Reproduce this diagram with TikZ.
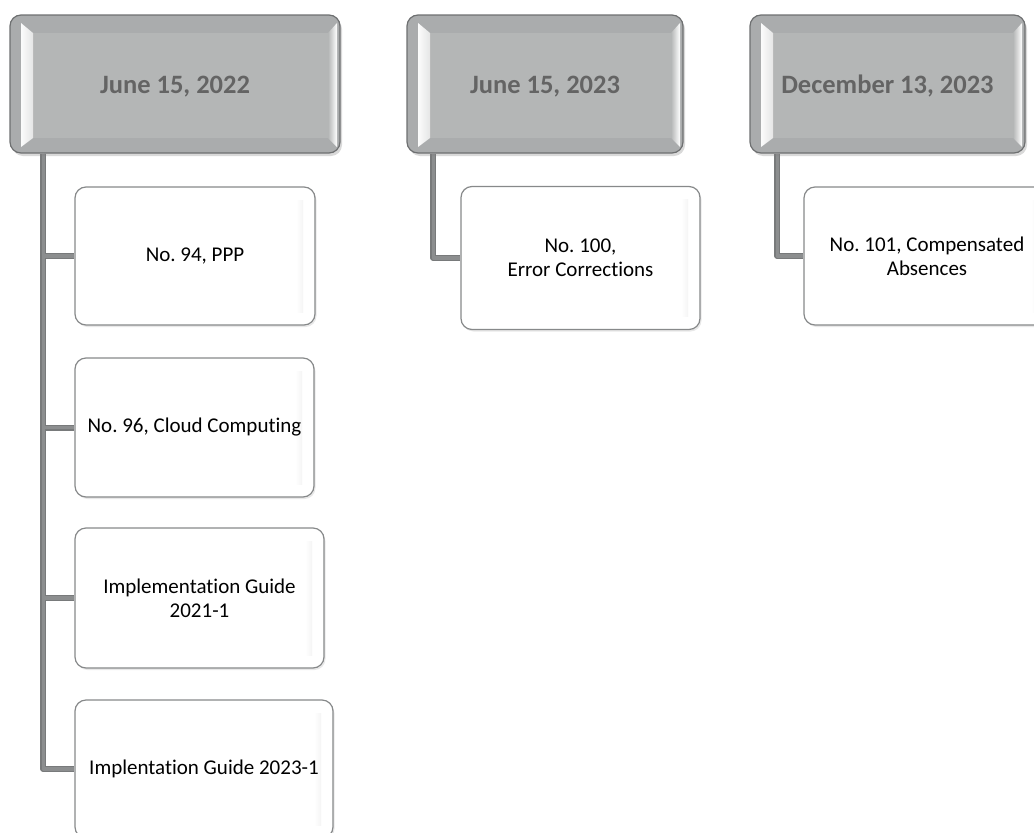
\documentclass[tikz,border=0pt]{standalone}
\usepackage{fontspec}
\setmainfont{Carlito}[Ligatures=NoCommon]
\frenchspacing
\usetikzlibrary{calc,shadows,backgrounds}
\definecolor{hdrout}{RGB}{170,172,173}
\definecolor{hdrface}{RGB}{180,182,182}
\definecolor{hdrtext}{RGB}{100,100,100}
\definecolor{hdrline}{RGB}{110,112,113}
\definecolor{boxline}{RGB}{135,137,138}
\definecolor{connout}{RGB}{120,122,123}
\definecolor{connin}{RGB}{140,142,143}
\tikzset{
  hdr/.style={rounded corners=11pt, draw=hdrline, line width=1.2pt, fill=hdrout,
    minimum height=138pt, inner sep=0pt, text=hdrtext,
    font=\fontsize{26.5}{30}\selectfont\bfseries,
    drop shadow={opacity=0.3, shadow xshift=2pt, shadow yshift=-3pt},
    path picture={
      \coordinate (nw) at (path picture bounding box.north west);
      \coordinate (se) at (path picture bounding box.south east);
      \fill[hdrface, sharp corners] ($(nw)+(23,18)$) rectangle ($(se)+(-12,-15)$);
      \shade[sharp corners, left color=white!95!hdrface, right color=hdrface!35!white]
        ($(nw)+(11,8)$) -- ($(nw)+(23,18)$) -- ($(nw|-se)+(23,-15)$) -- ($(nw|-se)+(11,-6)$) -- cycle;
      \shade[sharp corners, left color=hdrface, right color=white]
        ($(se|-nw)+(-12,18)$) -- ($(se|-nw)+(-3,8)$) -- ($(se)+(-3,-6)$) -- ($(se)+(-12,-15)$) -- cycle;
    }},
  leaf/.style={rounded corners=11pt, draw=boxline, line width=1.2pt, fill=white,
    inner sep=2pt, align=center, text=black,
    font=\fontsize{21}{24}\selectfont,
    drop shadow={opacity=0.18, shadow xshift=1.5pt, shadow yshift=-2pt},
    path picture={
      \coordinate (nw) at (path picture bounding box.north west);
      \coordinate (se) at (path picture bounding box.south east);
      \shade[sharp corners, left color=white, right color=black!4]
        ($(se|-nw)+(-19,13)$) rectangle ($(se)+(-12,-13)$);
    }},
  connA/.style={draw=connout, line width=6pt, line join=round},
  connB/.style={draw=connin, line width=3.8pt, line join=round},
}
\newcommand\hdrlabel[1]{\raisebox{-9pt}[0pt][0pt]{#1}}
\begin{document}
\begin{tikzpicture}[x=1pt, y=-1pt]
\useasboundingbox (0,0) rectangle (1034,833);

\node[hdr, minimum width=330pt] (h1) at (175,84) {\hdrlabel{June 15, 2022}};
\node[hdr, minimum width=276pt] (h2) at (545,84) {\hdrlabel{June 15, 2023}};
\node[hdr, minimum width=275pt] (h3) at (887.5,84) {\hdrlabel{December 13, 2023}};

\node[leaf, minimum width=240pt, minimum height=138pt] (c1) at (195,256) {No. 94, PPP};
\node[leaf, minimum width=239pt, minimum height=139pt] (c2) at (194.5,427.5) {No. 96, Cloud Computing};
\node[leaf, minimum width=249pt, minimum height=140pt] (c3) at (199.5,598) {Implementation Guide\\2021-1};
\node[leaf, minimum width=258pt, minimum height=138pt] (c4) at (204,769) {Implentation Guide 2023-1};
\node[leaf, minimum width=239pt, minimum height=143pt] (c5) at (580.5,258) {No. 100,\\Error Corrections};
\node[leaf, minimum width=246pt, minimum height=138pt] (c6) at (927,256) {No. 101, Compensated\\Absences};

\begin{scope}[on background layer]
\foreach \s in {connA, connB} {
  \draw[\s] ($(h1.south west)+(34,0)$) |- (c1.west);
  \draw[\s] ($(h1.south west)+(34,0)$) |- (c2.west);
  \draw[\s] ($(h1.south west)+(34,0)$) |- (c3.west);
  \draw[\s] ($(h1.south west)+(34,0)$) |- (c4.west);
  \draw[\s] ($(h2.south west)+(27,0)$) |- (c5.west);
  \draw[\s] ($(h3.south west)+(28,0)$) |- (c6.west);
}
\end{scope}
\end{tikzpicture}
\end{document}
